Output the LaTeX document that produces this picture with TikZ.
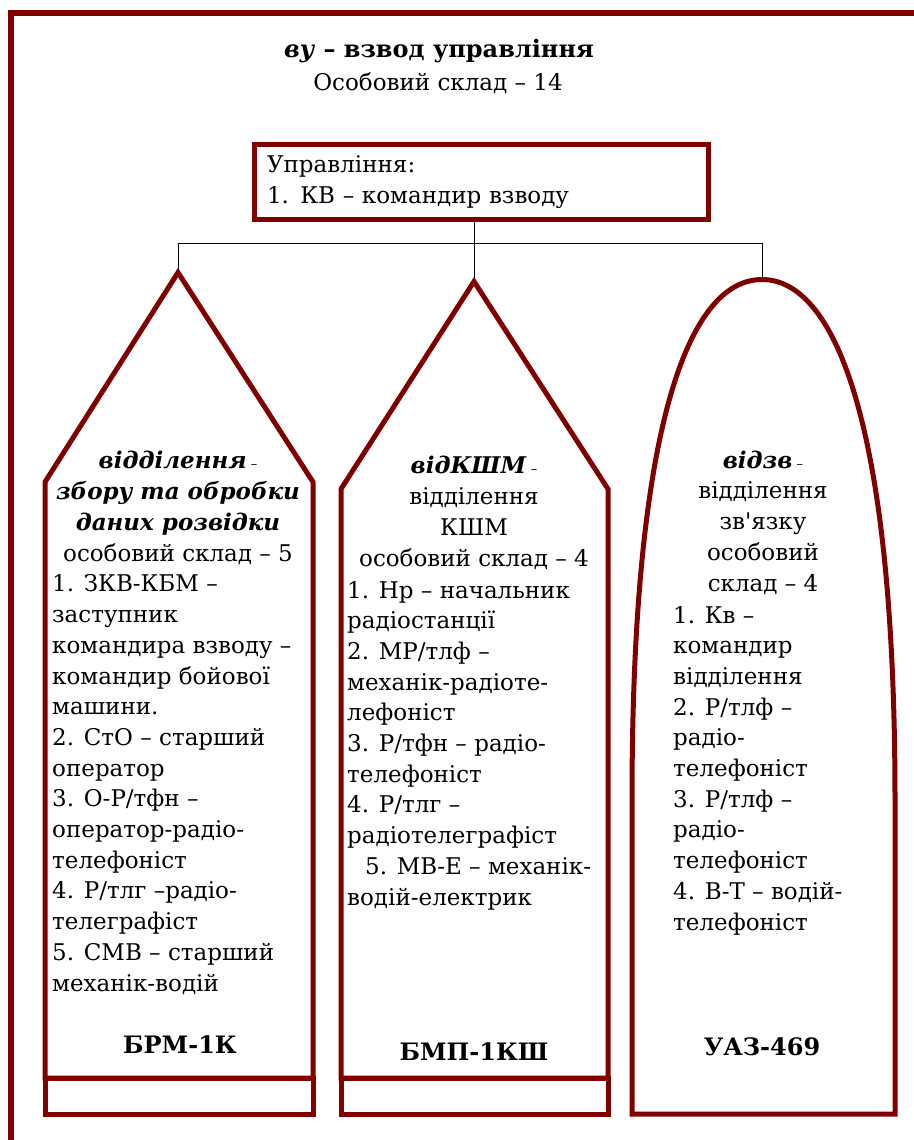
\documentclass[tikz,border=0pt]{standalone}
\usepackage{fontspec}
\setmainfont{DejaVu Serif}
\newfontfamily\rawfont[Ligatures=ResetAll]{DejaVu Serif}
\usetikzlibrary{positioning}
\definecolor{maroon}{RGB}{128, 0, 0}
\newcommand{\smalldash}{{\fontsize{13bp}{13bp}\selectfont\mdseries\upshape\ –}}

\begin{document}
\begin{tikzpicture}[x=1bp, y=-1bp, every node/.style={inner sep=0pt, font=\fontsize{23bp}{30.7bp}\selectfont}]
    \tikzstyle{frameline} = [draw=maroon, line width=6bp]
    \tikzstyle{shapeline} = [draw=maroon, line width=5bp, line join=miter]
    \tikzstyle{link} = [draw=black, line width=0.8bp]
    \tikzstyle{head} = [align=center, anchor=base]
    \tikzstyle{list} = [align=left, anchor=base west]
    \tikzstyle{car} = [anchor=base, font=\fontsize{24bp}{30.7bp}\selectfont\bfseries]

    \useasboundingbox (0,0) rectangle (914,1140);
    \draw[frameline] (11,1140) -- (11,13) -- (914,13);

    % Nodes (multi-line nodes are placed by the baseline of their last line)
    \node (title) [head, font=\fontsize{24bp}{30.7bp}\selectfont\bfseries] at (439,57) {\textit{ву} – взвод управління};
    \node (staff) [head] at (438,90) {Особовий склад – 14};
    \node (upr) [shapeline, text width=429bp, inner xsep=12.5bp, minimum height=75bp, align=left] at (481.5,182) {Управління:\\1. КВ – командир взводу};

    \coordinate (apexA) at (178,272.5);
    \coordinate (apexB) at (474,281.5);
    \coordinate (apexC) at (762,279.5);
    \coordinate (bus) at (474,243);

    % Arrows
    \draw[link] (apexB |- upr.south) -- (bus);
    \draw[link] (apexA) -- (apexA |- bus) -- (apexC |- bus) -- (apexC);
    \draw[link] (bus) -- (apexB);

    % Shapes
    \draw[shapeline] (45,482) -- (apexA) -- (313,482) -- (313,1078) -- (45,1078) -- cycle;
    \draw[shapeline] (45,1078) rectangle (313,1114);
    \draw[shapeline] (341,489) -- (apexB) -- (608,489) -- (608,1078) -- (341,1078) -- cycle;
    \draw[shapeline] (341,1078) rectangle (608,1114);
    \draw[shapeline] (632,1114) -- (632,800) .. controls (632,420) and (690,279.5) .. (apexC)
        .. controls (834,279.5) and (895,420) .. (895,800) -- (895,1114) -- cycle;

    % Texts
    \node (headA) [head] at (178,561) {\textbf{\textit{відділення}}\smalldash\\\textbf{\textit{збору та обробки}}\\\textbf{\textit{даних розвідки}}\\особовий склад – 5};
    \node (listA) [list] at (52,991) {1. ЗКВ-КБМ –\\заступник\\командира взводу –\\командир бойової\\машини.\\2. СтО – старший\\оператор\\3. О-Р/тфн –\\оператор-радіо-\\телефоніст\\4. Р/тлг –радіо-\\телеграфіст\\5. СМВ – старший\\механік-водій};
    \node (carA) [car] at (180,1053) {БРМ-1К};

    \node (headB) [head] at (474,566) {\textbf{\textit{відКШМ}}\smalldash\\відділення\\КШМ\\особовий склад – 4};
    \node (listB) [list] at (347,905) {1. Нр – начальник\\радіостанції\\2. МР/тлф –\\механік-радіоте-\\лефоніст\\3. Р/тфн – радіо-\\телефоніст\\4. Р/тлг –\\радіотелеграфіст\\\hspace*{18bp}5. МВ-Е – механік-\\водій-електрик};
    \node (carB) [car] at (474,1060) {БМП-1КШ};

    \node (headC) [head] at (763,591) {\textbf{\textit{відзв}}\smalldash\\відділення\\зв{\rawfont'}язку\\особовий\\склад – 4};
    \node (listC) [list] at (673,930) {1. Кв –\\командир\\відділення\\2. Р/тлф –\\радіо-\\телефоніст\\3. Р/тлф –\\радіо-\\телефоніст\\4. В-Т – водій-\\телефоніст};
    \node (carC) [car] at (762,1055) {УАЗ-469};
\end{tikzpicture}
\end{document}
